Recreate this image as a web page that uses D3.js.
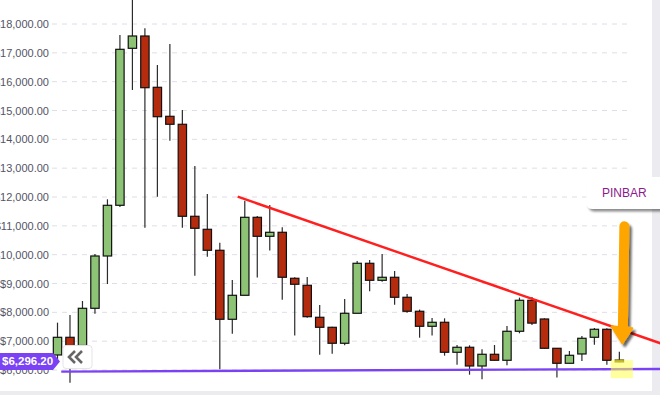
<!DOCTYPE html>
<html>
<head>
<meta charset="utf-8">
<title>Candlestick with PINBAR</title>
<script src="https://cdn.jsdelivr.net/npm/d3@7"></script>
<style>
  body { margin: 0; background: #fff; }
  svg { display: block; font-family: "Liberation Sans", Arial, sans-serif; }
</style>
</head>
<body>
<svg id="chart" width="660" height="395"></svg>
<script>
// weekly candles
var opens  = [6521, 7134, 6850, 8140, 9954, 11712, 17157, 17584, 15805, 14799,
              14522, 11331, 10880, 10152, 7759, 8591, 11296, 10637, 10776, 9181,
              8938, 7828, 7481, 6927, 7967, 9701, 9111, 9216, 8522, 8037,
              7516, 7655, 6615, 6788, 6139, 6545, 6337, 7343, 8418, 7769,
              6753, 6233, 6556, 7135, 7412, 6348];
var highs  = [7642, 7908, 8394, 10024, 11920, 17618, 19500, 17850, 16578, 17306,
              15018, 13076, 12104, 10415, 9122, 11872, 11340, 11723, 10950, 9221,
              9226, 8255, 7500, 8463, 9781, 9816, 10024, 9434, 8637, 8095,
              7804, 7793, 6868, 6857, 6719, 6868, 7527, 8510, 8534, 7793,
              6753, 6660, 7180, 7457, 7446, 6635];
var lows   = [6300, 5560, 6750, 7953, 8983, 11650, 15711, 10936, 12011, 13953,
              10936, 9271, 9930, 6025, 7260, 8591, 9207, 10144, 8439, 7196,
              7815, 6531, 6566, 6857, 7967, 8730, 9063, 8265, 7988, 7121,
              7196, 6497, 6185, 5838, 5678, 6330, 6163, 7273, 7557, 6740,
              5739, 6233, 6313, 6878, 6185, 6268];
var closes = [7134, 6850, 8140, 9954, 11712, 17122, 17584, 15791, 14785, 14522,
              11331, 10915, 10152, 7759, 8591, 11296, 10637, 10776, 9216, 8973,
              7849, 7481, 6927, 7967, 9701, 9111, 9216, 8522, 8037, 7516,
              7655, 6615, 6788, 6139, 6545, 6337, 7343, 8418, 7626, 6753,
              6233, 6510, 7100, 7412, 6337, 6280];

var yTicks = [6000, 7000, 8000, 9000, 10000, 11000, 12000, 13000, 14000, 15000, 16000, 17000, 18000];
var lastPrice = 6296.20;
var pinIndex = 45;

// hand drawn lines (candle index, price)
var resistance = [[14.43, 12010], [48.3, 6926]];
var support = [[0.3, 5942], [48.3, 6035]];

var svg = d3.select("#chart");
var n = opens.length;
var candles = d3.range(n).map(function (i) {
  return { i: i, o: opens[i], h: highs[i], l: lows[i], c: closes[i] };
});

var x = d3.scaleBand()
  .domain(d3.range(n))
  .range([51.26, 625.6])
  .paddingInner(0.33)
  .paddingOuter(0.165);
// same axis, for points between candles
var xi = d3.scaleLinear()
  .domain([0, n - 1])
  .range([x(0) + x.bandwidth() / 2, x(n - 1) + x.bandwidth() / 2]);
var y = d3.scaleLinear().domain([6000, 18000]).range([370, 24]);

// right / bottom frame
svg.append("rect").attr("x", 652).attr("y", 0).attr("width", 8).attr("height", 395).attr("fill", "#ececf0");
svg.append("rect").attr("x", 0).attr("y", 391).attr("width", 660).attr("height", 4).attr("fill", "#ececf0");

// grid + labels
var fmt = d3.format(",.2f");
svg.append("g").selectAll("line")
  .data(yTicks)
  .enter().append("line")
  .attr("x1", 52).attr("x2", 627)
  .attr("y1", function (d) { return y(d); })
  .attr("y2", function (d) { return y(d); })
  .attr("stroke", "#dedee6")
  .attr("stroke-width", 1)
  .attr("stroke-dasharray", "5,5");

svg.append("g").selectAll("text")
  .data(yTicks)
  .enter().append("text")
  .attr("x", 49)
  .attr("y", function (d) { return y(d) + 4; })
  .attr("text-anchor", "end")
  .attr("font-size", 11)
  .attr("fill", "#545466")
  .text(function (d) { return "$" + fmt(d); });

// candles
var g = svg.append("g");
var cx = function (d) { return x(d.i) + x.bandwidth() / 2; };
g.selectAll("line.wick")
  .data(candles)
  .enter().append("line")
  .attr("class", "wick")
  .attr("x1", cx).attr("x2", cx)
  .attr("y1", function (d) { return y(d.h); })
  .attr("y2", function (d) { return y(d.l); })
  .attr("stroke", "#2b2b2b")
  .attr("stroke-width", 1.2);

g.selectAll("rect.body")
  .data(candles)
  .enter().append("rect")
  .attr("class", "body")
  .attr("x", function (d) { return x(d.i); })
  .attr("width", x.bandwidth())
  .attr("y", function (d) { return y(Math.max(d.o, d.c)); })
  .attr("height", function (d) { return Math.max(1, Math.abs(y(d.o) - y(d.c))); })
  .attr("fill", function (d) {
    if (d.i === pinIndex) return "#a48c1c";
    return d.c >= d.o ? "#8dc375" : "#b52b0d";
  })
  .attr("stroke", function (d) { return d.i === pinIndex ? "#6b5a00" : "#111"; })
  .attr("stroke-width", 1.2);

// trend lines
var line = d3.line()
  .x(function (d) { return xi(d[0]); })
  .y(function (d) { return y(d[1]); });

svg.append("path")
  .attr("d", line(support))
  .attr("fill", "none")
  .attr("stroke", "#7a42f4")
  .attr("stroke-width", 2.4);

svg.append("path")
  .attr("d", line(resistance))
  .attr("fill", "none")
  .attr("stroke", "#ff1f1f")
  .attr("stroke-width", 2.4);

// highlight on the pinbar
var pinX = xi(pinIndex);
svg.append("rect")
  .attr("x", pinX - 8.5)
  .attr("y", y(highs[pinIndex]) + 8.5)
  .attr("width", 22)
  .attr("height", 18)
  .attr("fill", "#ffff4d")
  .attr("opacity", 0.55);

// arrow
var defs = svg.append("defs");
var sh = defs.append("filter").attr("id", "shadow")
  .attr("x", "-50%").attr("y", "-50%").attr("width", "200%").attr("height", "200%");
sh.append("feDropShadow")
  .attr("dx", 2.5).attr("dy", 3).attr("stdDeviation", 1.2)
  .attr("flood-color", "#000").attr("flood-opacity", 0.6);
var sh2 = defs.append("filter").attr("id", "shadow2")
  .attr("x", "-20%").attr("y", "-30%").attr("width", "140%").attr("height", "170%");
sh2.append("feDropShadow")
  .attr("dx", 2).attr("dy", 2.5).attr("stdDeviation", 1.2)
  .attr("flood-color", "#000").attr("flood-opacity", 0.45);

var tipY = y(6926);
var arrow = svg.append("g").attr("filter", "url(#shadow)");
arrow.append("line")
  .attr("x1", pinX + 5).attr("y1", tipY - 117)
  .attr("x2", pinX + 3.5).attr("y2", tipY - 14)
  .attr("stroke", "#ffa500")
  .attr("stroke-width", 10)
  .attr("stroke-linecap", "round");
arrow.append("path")
  .attr("d", "M" + (pinX - 7.8) + "," + (tipY - 17) +
             "L" + (pinX + 13) + "," + (tipY - 15) +
             "L" + (pinX + 3) + "," + tipY + "Z")
  .attr("fill", "#ffa500")
  .attr("stroke", "#ffa500")
  .attr("stroke-width", 2)
  .attr("stroke-linejoin", "round");

// callout
var call = svg.append("g");
call.append("rect")
  .attr("x", pinX - 33).attr("y", 177)
  .attr("width", 80).attr("height", 32)
  .attr("rx", 6)
  .attr("fill", "#fff")
  .attr("filter", "url(#shadow2)");
call.append("text")
  .attr("x", pinX + 5).attr("y", 197)
  .attr("text-anchor", "middle")
  .attr("font-size", 12)
  .attr("fill", "#8b1a8b")
  .text("PINBAR");

// last price tag
var py = y(lastPrice);
svg.append("path")
  .attr("d", "M0," + (py - 8.5) + "H53L60," + py + "L53," + (py + 8.5) + "H0Z")
  .attr("fill", "#7a42f4");
svg.append("text")
  .attr("x", 2).attr("y", py + 4)
  .attr("font-size", 11.5)
  .attr("font-weight", "bold")
  .attr("fill", "#fff")
  .text("$" + fmt(lastPrice));

// scroll button with two chevrons
var btn = svg.append("g");
btn.append("rect")
  .attr("x", 63).attr("y", py - 16)
  .attr("width", 29).attr("height", 23)
  .attr("rx", 3)
  .attr("fill", "#fff")
  .attr("stroke", "#e4e4e8");
[69, 76].forEach(function (bx) {
  btn.append("path")
    .attr("d", "M" + (bx + 6) + "," + (py - 10.5) + "L" + bx + "," + (py - 4.5) + "L" + (bx + 6) + "," + (py + 1.5))
    .attr("fill", "none")
    .attr("stroke", "#666")
    .attr("stroke-width", 2.6);
});
</script>
</body>
</html>
